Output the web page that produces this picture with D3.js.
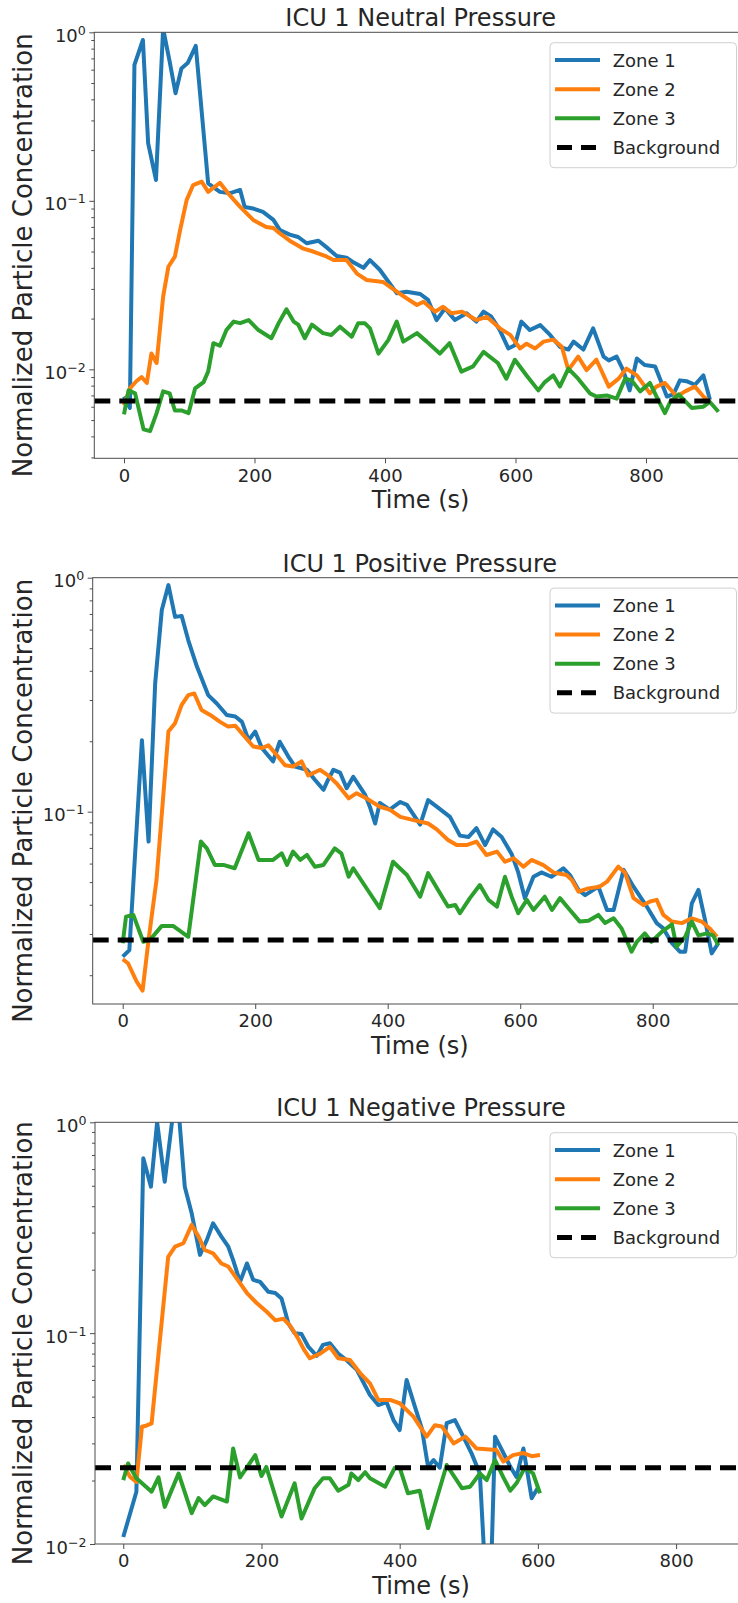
<!DOCTYPE html>
<html><head><meta charset="utf-8">
<script src="https://cdn.jsdelivr.net/npm/d3@7"></script>
<style>
body{margin:0;background:#fff}
svg{display:block}
text{font-family:"DejaVu Sans",sans-serif;fill:#262626}
</style>
</head><body>
<svg id="c" width="738" height="1603"></svg>
<script>
// ---------------- data ----------------
const panelTitles = ["ICU 1 Neutral Pressure", "ICU 1 Positive Pressure", "ICU 1 Negative Pressure"];
const seriesNames = ["Zone 1", "Zone 2", "Zone 3", "Background"];
const xLabel = "Time (s)";
const yLabel = "Normalized Particle Concentration";
const xTickValues = [0, 200, 400, 600, 800];
const yDecadeTicks = [[0.01, 0.1, 1], [0.1, 1], [0.01, 0.1, 1]];
const backgroundLevels = [0.00648, 0.0283, 0.023];

// [time (s), normalized concentration]
const neutralZone1 = [[0,0.0069],[9,0.0059],[16,0.64],[29,0.9],[37,0.22],[49,0.133],[60,1.05],[70,0.67],[79,0.435],[88,0.61],[98,0.66],[110,0.83],[129,0.127],[147,0.113],[163,0.111],[178,0.116],[185,0.092],[198,0.09],[213,0.086],[229,0.077],[239,0.067],[254,0.063],[267,0.061],[280,0.056],[298,0.058],[313,0.052],[326,0.047],[341,0.046],[350,0.0435],[367,0.04],[377,0.0445],[392,0.039],[418,0.0283],[433,0.0289],[454,0.028],[466,0.0258],[479,0.0196],[492,0.023],[507,0.0196],[525,0.0215],[540,0.0192],[551,0.022],[563,0.0205],[576,0.0171],[589,0.0133],[599,0.0139],[609,0.0192],[622,0.0171],[638,0.0183],[653,0.016],[668,0.0136],[681,0.0131],[689,0.0146],[704,0.0131],[719,0.0175],[735,0.0119],[743,0.0113],[755,0.0119],[765,0.0099],[775,0.0075],[786,0.0116],[798,0.0106],[814,0.0104],[824,0.0083],[832,0.0069],[842,0.0071],[852,0.0086],[862,0.0085],[875,0.0081],[888,0.0092],[898,0.0066]];
const neutralZone2 = [[0,0.0061],[9,0.0077],[19,0.0085],[27,0.009],[35,0.0083],[42,0.0124],[50,0.0109],[60,0.027],[68,0.0406],[78,0.0466],[86,0.067],[96,0.101],[106,0.124],[119,0.13],[129,0.113],[147,0.128],[162,0.108],[178,0.092],[198,0.077],[218,0.070],[229,0.069],[239,0.064],[254,0.058],[275,0.052],[290,0.050],[311,0.0466],[321,0.0445],[341,0.0445],[357,0.037],[372,0.0339],[397,0.033],[418,0.0289],[433,0.0264],[449,0.0241],[459,0.0252],[477,0.022],[489,0.0235],[502,0.0215],[518,0.022],[540,0.0196],[556,0.0205],[576,0.0175],[592,0.016],[607,0.0133],[617,0.0142],[630,0.0133],[643,0.0146],[658,0.015],[671,0.0136],[681,0.0099],[696,0.0119],[709,0.0099],[724,0.0114],[743,0.0079],[758,0.0088],[770,0.0101],[786,0.0092],[806,0.0072],[816,0.0079],[829,0.0083],[847,0.0069],[860,0.0074],[875,0.0079],[888,0.0069],[898,0.0064]];
const neutralZone3 = [[0,0.0054],[7,0.0075],[17,0.0072],[30,0.0044],[40,0.0043],[50,0.0055],[60,0.0074],[70,0.0072],[78,0.0057],[88,0.0057],[99,0.0055],[109,0.0077],[122,0.0084],[129,0.0097],[137,0.0143],[147,0.0138],[157,0.0171],[168,0.0192],[178,0.0188],[191,0.0196],[206,0.0171],[226,0.0153],[237,0.0188],[249,0.0227],[260,0.0192],[267,0.0184],[277,0.0153],[288,0.0184],[305,0.0164],[318,0.016],[331,0.0179],[349,0.0156],[359,0.0188],[369,0.0188],[377,0.0175],[390,0.0124],[405,0.0149],[418,0.0192],[428,0.0146],[449,0.0164],[464,0.0146],[484,0.0124],[499,0.0143],[517,0.0097],[535,0.0104],[551,0.0127],[573,0.0109],[586,0.0088],[599,0.0114],[617,0.0092],[635,0.0075],[645,0.0084],[658,0.0092],[668,0.0079],[681,0.0101],[696,0.0088],[714,0.0072],[724,0.0069],[740,0.007],[755,0.0067],[768,0.0088],[778,0.0086],[791,0.0074],[806,0.0083],[816,0.0069],[829,0.0055],[837,0.0064],[850,0.0071],[870,0.0059],[888,0.006],[898,0.0064],[911,0.0056]];

const positiveZone1 = [[0,0.024],[10,0.0256],[29,0.202],[39,0.0745],[49,0.354],[59,0.728],[69,0.93],[79,0.68],[89,0.686],[99,0.54],[112,0.417],[129,0.315],[142,0.29],[157,0.259],[170,0.255],[180,0.242],[190,0.202],[200,0.22],[210,0.187],[227,0.164],[237,0.199],[250,0.172],[260,0.156],[278,0.151],[290,0.137],[303,0.124],[310,0.137],[318,0.151],[328,0.147],[338,0.126],[348,0.141],[366,0.118],[373,0.105],[381,0.089],[388,0.109],[403,0.102],[419,0.110],[429,0.107],[449,0.088],[461,0.112],[474,0.105],[494,0.095],[509,0.079],[522,0.078],[534,0.085],[547,0.072],[559,0.084],[572,0.078],[587,0.066],[597,0.055],[607,0.0427],[620,0.0527],[632,0.055],[647,0.0527],[665,0.0573],[675,0.0536],[688,0.0463],[698,0.044],[718,0.0478],[731,0.038],[741,0.038],[756,0.0564],[771,0.0478],[791,0.0393],[806,0.0334],[816,0.0317],[829,0.0274],[841,0.0252],[849,0.0252],[859,0.0406],[869,0.0463],[879,0.0344],[889,0.0248],[899,0.0274]];
const positiveZone2 = [[0,0.0234],[8,0.0225],[21,0.0188],[30,0.0172],[39,0.0283],[51,0.051],[69,0.22],[79,0.239],[89,0.286],[99,0.315],[108,0.32],[119,0.272],[132,0.259],[147,0.242],[159,0.231],[170,0.233],[180,0.216],[197,0.19],[210,0.187],[220,0.192],[230,0.178],[245,0.158],[257,0.156],[270,0.164],[280,0.143],[298,0.151],[310,0.143],[323,0.132],[341,0.114],[353,0.12],[368,0.114],[388,0.105],[403,0.102],[419,0.095],[439,0.092],[461,0.089],[474,0.084],[491,0.0757],[504,0.072],[519,0.072],[534,0.0745],[549,0.0653],[565,0.0675],[577,0.0611],[590,0.0632],[605,0.0582],[617,0.0622],[635,0.0591],[650,0.055],[670,0.0536],[678,0.051],[688,0.0455],[703,0.047],[720,0.0478],[731,0.0502],[748,0.0582],[758,0.055],[771,0.0427],[786,0.0399],[796,0.0413],[806,0.042],[816,0.0362],[829,0.0339],[844,0.0334],[859,0.035],[874,0.0339],[886,0.0317],[897,0.0292]];
const positiveZone3 = [[0,0.0274],[5,0.0356],[16,0.0362],[31,0.0278],[41,0.0283],[59,0.0325],[76,0.0325],[99,0.0292],[118,0.0745],[127,0.0697],[139,0.0592],[152,0.0592],[169,0.0573],[190,0.0809],[205,0.0622],[227,0.0622],[240,0.0664],[248,0.0592],[257,0.0675],[268,0.0622],[278,0.0653],[290,0.0582],[303,0.0592],[320,0.0697],[330,0.0664],[341,0.0527],[348,0.0573],[373,0.0448],[388,0.0387],[408,0.0611],[429,0.0536],[449,0.0433],[461,0.0546],[476,0.0463],[491,0.0393],[502,0.0399],[509,0.0368],[524,0.0427],[539,0.0486],[552,0.042],[565,0.0393],[577,0.0527],[587,0.0433],[597,0.0368],[610,0.042],[620,0.038],[637,0.0433],[648,0.038],[660,0.0427],[675,0.038],[690,0.0339],[703,0.0342],[718,0.0362],[728,0.0334],[741,0.035],[753,0.0317],[768,0.0252],[776,0.0278],[788,0.0302],[798,0.0278],[814,0.0307],[829,0.033],[836,0.0265],[849,0.0292],[859,0.0339],[869,0.0296],[882,0.0302],[891,0.0296],[899,0.0269]];

const negativeZone1 = [[0,0.0108],[10,0.014],[19,0.0177],[29,0.675],[40,0.495],[49,1.0],[60,0.523],[72,1.1],[80,1.15],[89,0.495],[99,0.37],[111,0.235],[121,0.277],[130,0.332],[142,0.287],[152,0.257],[159,0.222],[169,0.175],[179,0.214],[188,0.179],[198,0.175],[210,0.157],[220,0.155],[229,0.146],[239,0.111],[248,0.1],[258,0.099],[268,0.086],[280,0.078],[289,0.088],[299,0.0895],[311,0.080],[323,0.0746],[338,0.067],[357,0.0509],[369,0.0456],[381,0.0471],[391,0.0387],[400,0.0347],[410,0.06],[422,0.0448],[432,0.0354],[441,0.0233],[449,0.025],[458,0.023],[468,0.0374],[480,0.0387],[492,0.0323],[504,0.0269],[516,0.0216],[524,0.007],[532,0.007],[538,0.0323],[548,0.0279],[560,0.0233],[569,0.0208],[579,0.0284],[591,0.0165],[601,0.0187]];
const negativeZone2 = [[0,0.0237],[10,0.0208],[19,0.0197],[27,0.036],[34,0.0365],[41,0.0373],[65,0.23],[75,0.257],[87,0.267],[99,0.326],[109,0.287],[118,0.248],[130,0.239],[142,0.214],[152,0.207],[164,0.182],[179,0.155],[193,0.139],[208,0.126],[220,0.115],[232,0.117],[241,0.109],[253,0.0945],[262,0.083],[270,0.076],[285,0.08],[299,0.086],[311,0.076],[328,0.0746],[343,0.0645],[357,0.0578],[369,0.0482],[386,0.0482],[400,0.0465],[420,0.0402],[439,0.0323],[451,0.0366],[461,0.0361],[478,0.030],[495,0.0323],[511,0.0284],[540,0.0279],[550,0.0246],[564,0.0264],[579,0.027],[591,0.0261],[603,0.0264]];
const negativeZone3 = [[0,0.0201],[7,0.0241],[19,0.0205],[41,0.0177],[51,0.0207],[60,0.015],[80,0.0216],[99,0.014],[109,0.0165],[118,0.0153],[130,0.0168],[150,0.0159],[159,0.0284],[169,0.0207],[191,0.0264],[200,0.021],[207,0.0232],[229,0.0135],[248,0.0194],[258,0.0132],[277,0.0184],[289,0.0205],[299,0.0205],[311,0.0179],[326,0.0191],[330,0.0216],[340,0.0201],[350,0.0219],[357,0.0205],[379,0.0187],[393,0.023],[400,0.023],[412,0.0174],[429,0.0179],[441,0.0119],[468,0.0237],[490,0.0184],[502,0.0187],[516,0.0216],[526,0.0201],[538,0.025],[550,0.0207],[560,0.0179],[569,0.0194],[581,0.023],[593,0.0216],[603,0.0174]];

// ---------------- layout ----------------
const colors = ["#1f77b4", "#ff7f0e", "#2ca02c", "#000000"];
const panels = [
  {title: panelTitles[0], series: [neutralZone1, neutralZone2, neutralZone3], bg: backgroundLevels[0], yTicks: yDecadeTicks[0],
   box: {l: 94.3, r: 747, t: 32.3, b: 458.3}, xDomain: [-45.5, 954.8], yDomain: [Math.pow(10, -2.528), 1]},
  {title: panelTitles[1], series: [positiveZone1, positiveZone2, positiveZone3], bg: backgroundLevels[1], yTicks: yDecadeTicks[1],
   box: {l: 92.7, r: 747, t: 577.7, b: 1004}, xDomain: [-45.3, 942.3], yDomain: [Math.pow(10, -1.822), 1]},
  {title: panelTitles[2], series: [negativeZone1, negativeZone2, negativeZone3], bg: backgroundLevels[2], yTicks: yDecadeTicks[2],
   box: {l: 95, r: 747, t: 1122.3, b: 1544}, xDomain: [-40.9, 902.6], yDomain: [0.01, 1]}
];

const svg = d3.select("#c");
const defs = svg.append("defs");
const spineColor = "#4d4d4d";

function minorTicks(domain) {
  const out = [];
  const lo = Math.floor(Math.log10(domain[0])), hi = Math.ceil(Math.log10(domain[1]));
  for (let k = lo; k < hi; k++) {
    for (let m = 2; m <= 9; m++) {
      const v = m * Math.pow(10, k);
      if (v >= domain[0] && v <= domain[1]) out.push(v);
    }
  }
  return out;
}

panels.forEach((p, i) => {
  const B = p.box;
  const x = d3.scaleLinear().domain(p.xDomain).range([B.l, B.r]);
  const y = d3.scaleLog().domain(p.yDomain).range([B.b, B.t]);
  const g = svg.append("g");

  defs.append("clipPath").attr("id", "clip" + i)
    .append("rect").attr("x", B.l).attr("y", B.t).attr("width", B.r - B.l).attr("height", B.b - B.t);

  const plot = g.append("g").attr("clip-path", `url(#clip${i})`);
  const line = d3.line().x(d => x(d[0])).y(d => y(d[1]));
  p.series.forEach((s, k) => {
    plot.append("path").attr("d", line(s)).attr("fill", "none")
      .attr("stroke", colors[k]).attr("stroke-width", 4)
      .attr("stroke-linejoin", "round").attr("stroke-linecap", "butt");
  });
  plot.append("line")
    .attr("x1", x(p.xDomain[0])).attr("x2", x(p.xDomain[1]))
    .attr("y1", y(p.bg)).attr("y2", y(p.bg))
    .attr("stroke", "#000").attr("stroke-width", 5).attr("stroke-dasharray", "16,9");

  // x axis
  const xAxis = d3.axisBottom(x).tickValues(xTickValues).tickSize(5).tickPadding(5.5).tickFormat(d3.format("d"));
  const xg = g.append("g").attr("transform", `translate(0,${B.b})`).call(xAxis);
  xg.select(".domain").remove();
  xg.selectAll(".tick line").attr("stroke", spineColor);
  xg.selectAll(".tick text").attr("font-size", 18).attr("font-family", "DejaVu Sans").attr("fill", "#262626");

  // y axis minor
  const yMinor = d3.axisLeft(y).tickValues(minorTicks(p.yDomain)).tickSize(3).tickFormat("");
  const ymg = g.append("g").attr("transform", `translate(${B.l},0)`).call(yMinor);
  ymg.select(".domain").remove();
  ymg.selectAll(".tick line").attr("stroke", spineColor);

  // y axis major
  const yMajor = d3.axisLeft(y).tickValues(p.yTicks).tickSize(5).tickFormat("");
  const yg = g.append("g").attr("transform", `translate(${B.l},0)`).call(yMajor);
  yg.select(".domain").remove();
  yg.selectAll(".tick line").attr("stroke", spineColor);
  yg.selectAll(".tick").each(function(d) {
    const e = Math.round(Math.log10(d));
    const t = d3.select(this).append("text")
      .attr("x", -8.5).attr("y", 9).attr("text-anchor", "end")
      .attr("font-size", 18).attr("fill", "#262626");
    t.append("tspan").text("10");
    t.append("tspan").attr("font-size", 12.6).attr("dy", -7).text(e < 0 ? "\u2212" + Math.abs(e) : String(e));
  });

  // spines
  g.append("rect").attr("x", B.l).attr("y", B.t).attr("width", B.r - B.l).attr("height", B.b - B.t)
    .attr("fill", "none").attr("stroke", spineColor).attr("stroke-width", 1);

  // title
  g.append("text").attr("x", (B.l + B.r) / 2).attr("y", B.t - 6).attr("text-anchor", "middle")
    .attr("font-size", 24).text(p.title);
  // axis labels
  g.append("text").attr("x", (B.l + B.r) / 2).attr("y", B.b + 50).attr("text-anchor", "middle")
    .attr("font-size", 24).text(xLabel);
  g.append("text").attr("transform", `translate(32,${(B.t + B.b) / 2 + 10}) rotate(-90)`).attr("text-anchor", "middle")
    .attr("font-size", 26).text(yLabel);

  // legend
  const lg = g.append("g").attr("transform", `translate(550,${B.t + 10.4})`);
  lg.append("rect").attr("width", 186.5).attr("height", 125).attr("rx", 4)
    .attr("fill", "#fff").attr("fill-opacity", 0.8).attr("stroke", "#d0d0d0").attr("stroke-width", 1);
  seriesNames.forEach((name, k) => {
    const yy = 17.4 + 29.1 * k;
    lg.append("line").attr("x1", 5).attr("x2", 50).attr("y1", yy).attr("y2", yy)
      .attr("stroke", colors[k]).attr("stroke-width", k === 3 ? 5 : 4)
      .attr("stroke-dasharray", k === 3 ? "15,9" : null)
      .attr("stroke-dashoffset", k === 3 ? -2 : null);
    lg.append("text").attr("x", 62.7).attr("y", yy + 6.5).attr("font-size", 18).text(name);
  });
});
</script>
</body></html>
